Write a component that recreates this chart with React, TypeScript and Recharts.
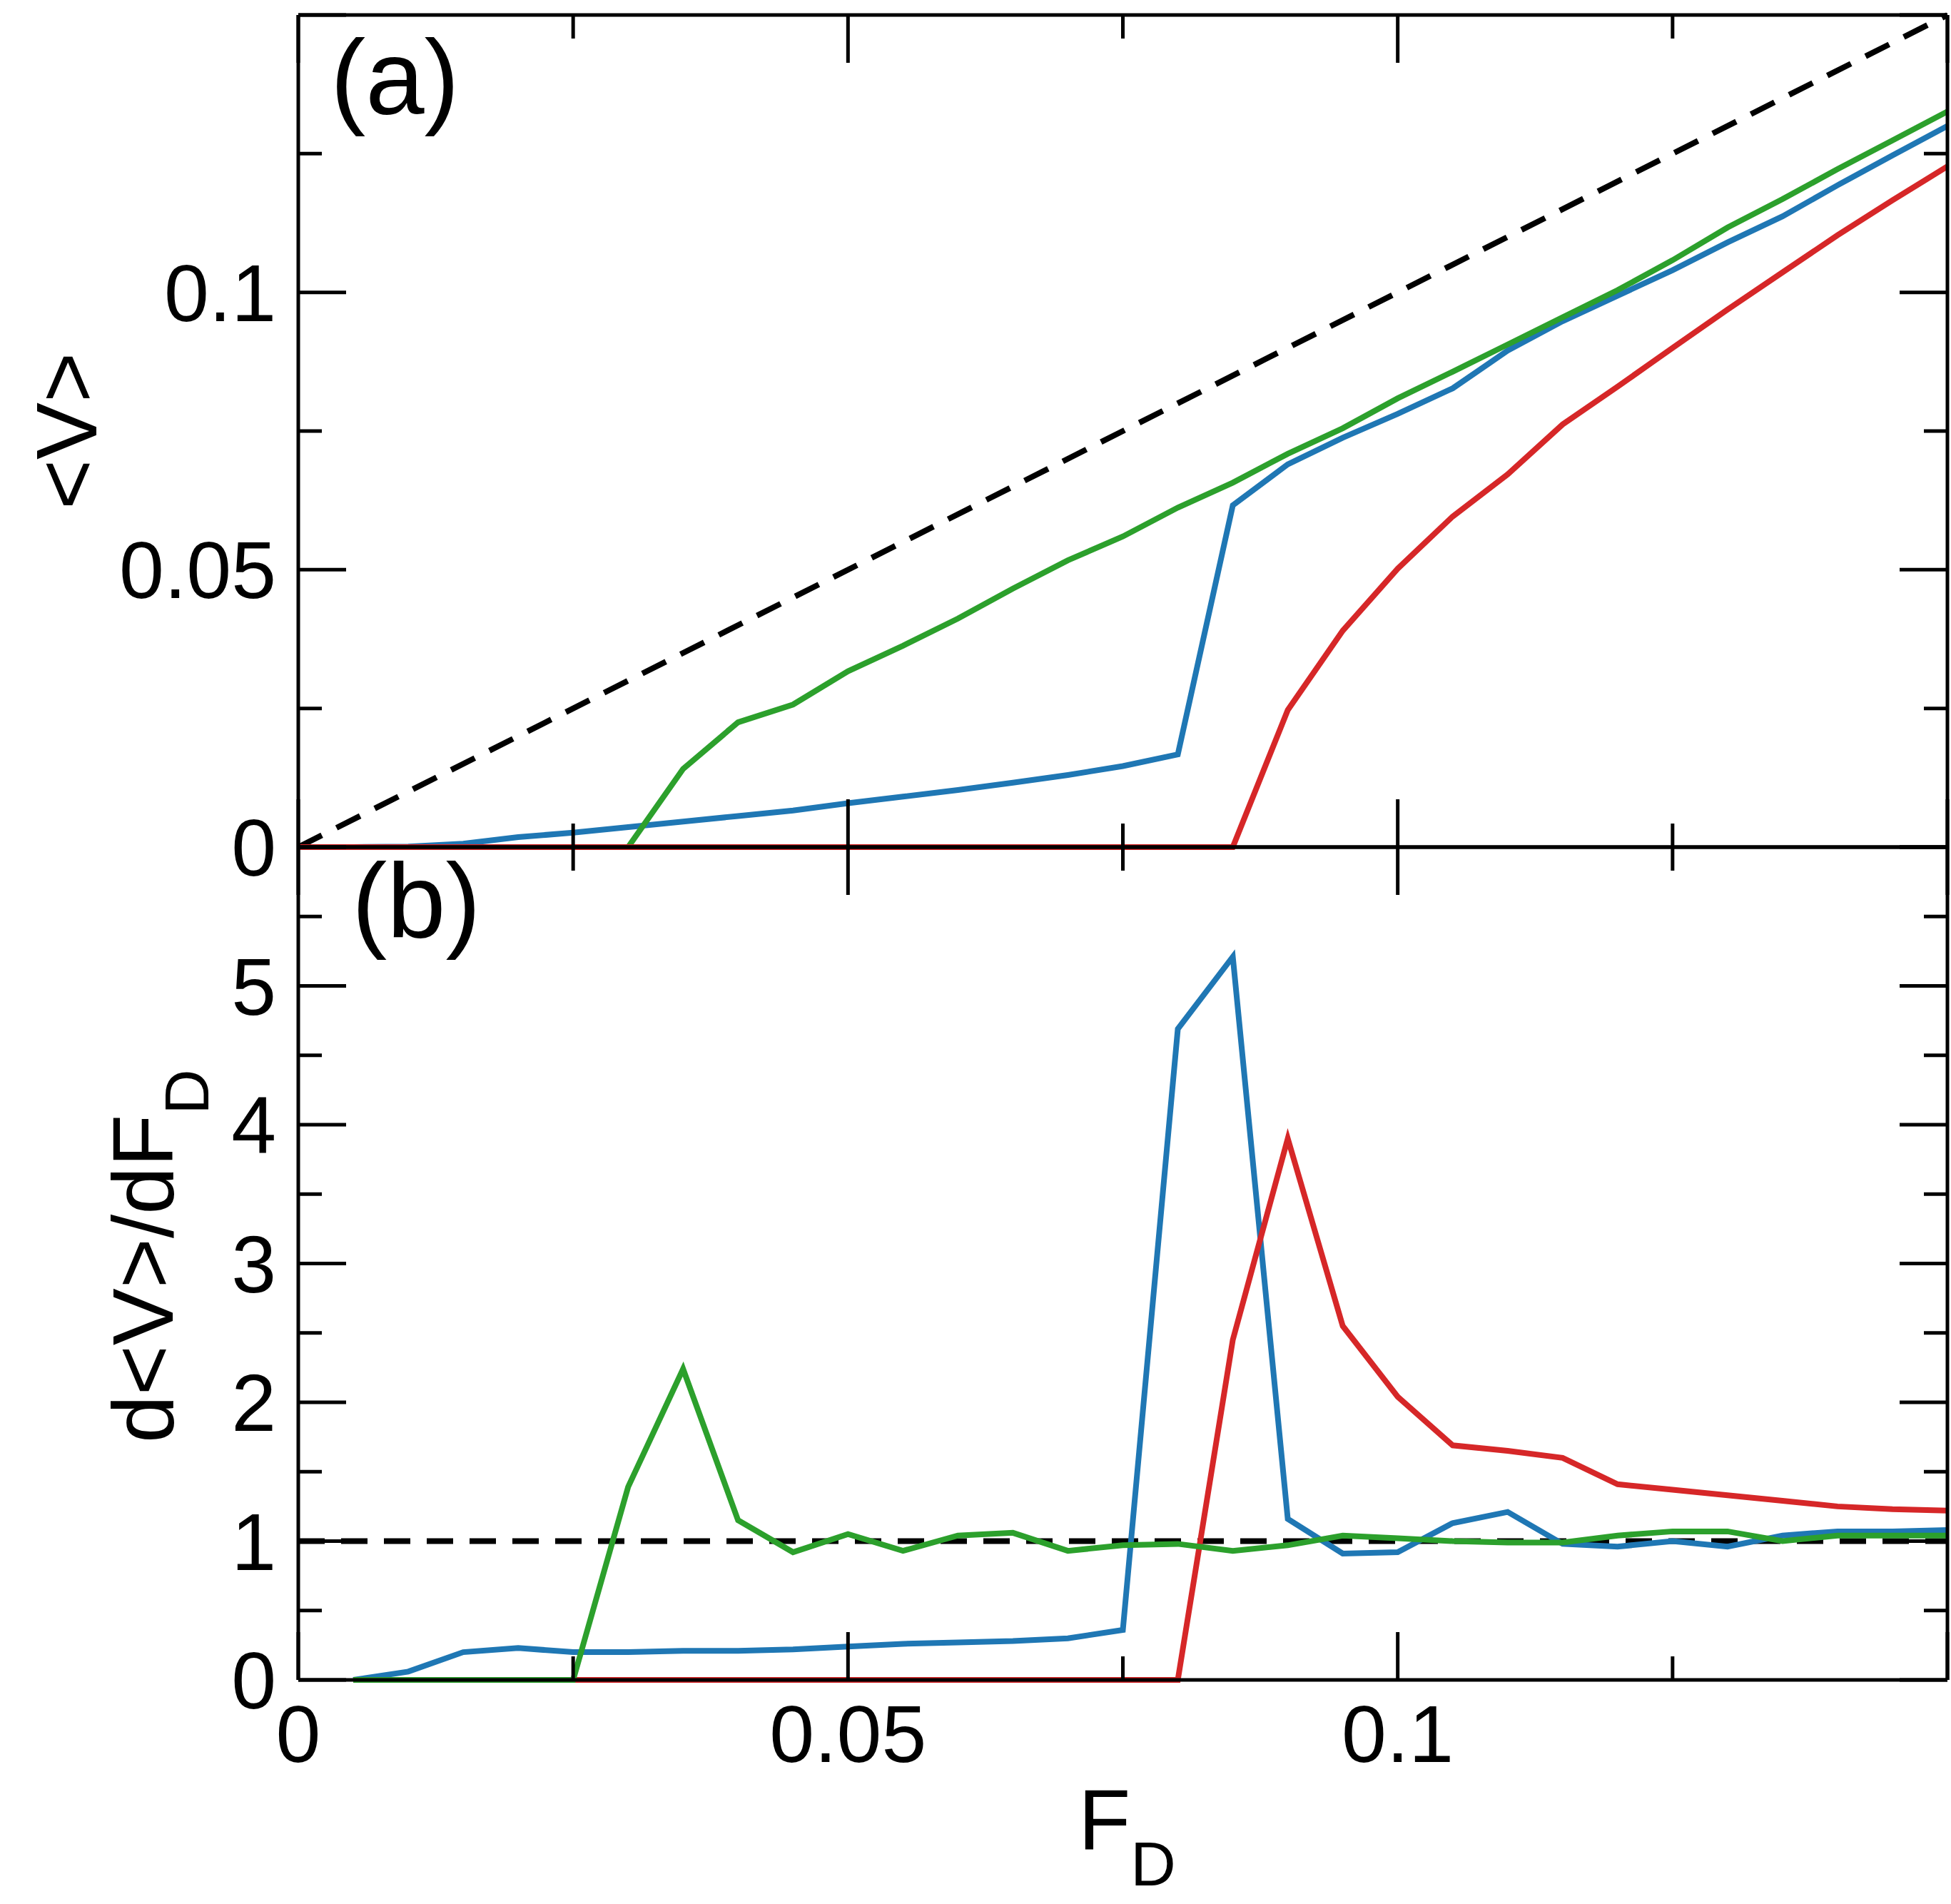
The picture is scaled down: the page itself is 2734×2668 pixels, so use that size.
import { LineChart, Line, XAxis, YAxis } from 'recharts'

// driving force grid
const forces = [
  0, 0.005, 0.01, 0.015, 0.02, 0.025, 0.03, 0.035, 0.04, 0.045, 0.05,
  0.055, 0.06, 0.065, 0.07, 0.075, 0.08, 0.085, 0.09, 0.095, 0.1,
  0.105, 0.11, 0.115, 0.12, 0.125, 0.13, 0.135, 0.14, 0.145, 0.15
]

// panel (a): <V>
const blueV = [
  0, 0, 0.0001, 0.0006, 0.0018, 0.0026, 0.0036, 0.0046, 0.0056, 0.0066, 0.0079,
  0.0091, 0.0103, 0.0116, 0.013, 0.0146, 0.0167, 0.0616, 0.069, 0.0738, 0.0781,
  0.0827, 0.0895, 0.0948, 0.0994, 0.104, 0.109, 0.1137, 0.1193, 0.1247, 0.13
]
const greenV = [
  0, 0, 0, 0, 0, 0, 0, 0.0141, 0.0225, 0.0257, 0.0317,
  0.0363, 0.0412, 0.0466, 0.0517, 0.056, 0.0612, 0.0657, 0.0709, 0.0755, 0.0809,
  0.0857, 0.0906, 0.0955, 0.1004, 0.1058, 0.1117, 0.1168, 0.1222, 0.1274, 0.1326
]
const redV = [
  0, 0, 0, 0, 0, 0, 0, 0, 0, 0, 0,
  0, 0, 0, 0, 0, 0, 0, 0.0247, 0.039, 0.0502,
  0.0596, 0.0672, 0.0762, 0.083, 0.09, 0.0969, 0.1036, 0.1103, 0.1166, 0.1227
]

// panel (b): d<V>/dF_D
const blueD = [
  null, 0, 0.06, 0.2, 0.23, 0.2, 0.2, 0.21, 0.21, 0.22, 0.24,
  0.26, 0.27, 0.28, 0.3, 0.36, 4.69, 5.21, 1.16, 0.91, 0.92,
  1.13, 1.21, 0.98, 0.96, 1.0, 0.96, 1.04, 1.07, 1.07, 1.08
]
const greenD = [
  null, 0, 0, 0, 0, 0, 1.39, 2.24, 1.15, 0.92, 1.05,
  0.93, 1.04, 1.06, 0.93, 0.97, 0.98, 0.93, 0.97, 1.04, 1.02,
  1.0, 0.99, 0.99, 1.04, 1.07, 1.07, 1.0, 1.04, 1.04, 1.04
]
const redD = [
  null, 0, 0, 0, 0, 0, 0, 0, 0, 0, 0,
  0, 0, 0, 0, 0, 0, 2.45, 3.9, 2.55, 2.04,
  1.69, 1.65, 1.6, 1.41, 1.37, 1.33, 1.29, 1.25, 1.23, 1.22
]

// dashed guides
const guideF = [0, 0.15]
const guideV = [0, 0.15]
const guideD = [1, 1]

// ticks
const xTicks = [0, 0.025, 0.05, 0.075, 0.1, 0.125, 0.15]
const xLabels = [0, 0.05, 0.1]
const vTicks = [0, 0.025, 0.05, 0.075, 0.1, 0.125, 0.15]
const vLabels = [0, 0.05, 0.1]
const dTicks = [0, 0.5, 1, 1.5, 2, 2.5, 3, 3.5, 4, 4.5, 5, 5.5, 6]
const dLabels = [0, 1, 2, 3, 4, 5]

const topRows = forces.map((F, i) => ({ F, blue: blueV[i], green: greenV[i], red: redV[i] }))
const bottomRows = forces.map((F, i) => ({ F, blue: blueD[i], green: greenD[i], red: redD[i] }))
const topGuide = guideF.map((F, i) => ({ F, v: guideV[i] }))
const bottomGuide = guideF.map((F, i) => ({ F, v: guideD[i] }))

const W = 2734
const H = 2668
const FONT = "'Liberation Sans', Arial, Helvetica, sans-serif"
const BLUE = '#1f77b4'
const GREEN = '#2ca02c'
const RED = '#d62728'
const MAJOR_TICK = 67
const MINOR_TICK = 33
const frame = { stroke: '#000', strokeWidth: 5 }

type Side = 'left' | 'right' | 'top' | 'bottom'

const isMajor = (v: number, step: number) => {
  const r = v / step
  return Math.abs(r - Math.round(r)) < 1e-6
}

const makeTick = (side: Side, step: number, labelled: number[]) => (props: any) => {
  const { x, y, payload } = props
  const v = payload.value as number
  const len = isMajor(v, step) ? MAJOR_TICK : MINOR_TICK
  const label = labelled.find(l => Math.abs(l - v) < 1e-9)
  let x2 = x
  let y2 = y
  if (side === 'left') x2 = x + len
  if (side === 'right') x2 = x - len
  if (side === 'bottom') y2 = y - len
  if (side === 'top') y2 = y + len
  return (
    <g>
      <line x1={x} y1={y} x2={x2} y2={y2} stroke='#000' strokeWidth={5} />
      {label !== undefined && side === 'left' && (
        <text x={x - 31} y={y + 40} textAnchor='end' fontSize={113} fontFamily={FONT} fill='#000'>
          {String(label)}
        </text>
      )}
      {label !== undefined && side === 'bottom' && (
        <text x={x} y={y + 115} textAnchor='middle' fontSize={113} fontFamily={FONT} fill='#000'>
          {String(label)}
        </text>
      )}
    </g>
  )
}

const lineProps = {
  type: 'linear' as const,
  strokeWidth: 8,
  dot: false,
  activeDot: false,
  isAnimationActive: false
}

const svgStyle = { overflow: 'visible' as const }

function TopPanel () {
  return (
    <LineChart width={W} height={1260} data={topRows} style={svgStyle}
      margin={{ top: 20, right: 4, bottom: 72, left: 0 }}>
      <Line {...lineProps} data={topGuide} xAxisId='t' yAxisId='r' dataKey='v' stroke='#000' strokeDasharray='37 23' />
      <Line {...lineProps} xAxisId='b' yAxisId='l' dataKey='blue' stroke={BLUE} />
      <Line {...lineProps} xAxisId='b' yAxisId='l' dataKey='green' stroke={GREEN} />
      <Line {...lineProps} xAxisId='b' yAxisId='l' dataKey='red' stroke={RED} />
      <XAxis xAxisId='b' orientation='bottom' dataKey='F' type='number' domain={[0, 0.15]} ticks={xTicks} interval={0}
        height={1} tickSize={0} tickMargin={0} tickLine={false} axisLine={frame} tick={makeTick('bottom', 0.05, [])} />
      <XAxis xAxisId='t' orientation='top' dataKey='F' type='number' domain={[0, 0.15]} ticks={xTicks} interval={0}
        height={1} tickSize={0} tickMargin={0} tickLine={false} axisLine={frame} tick={makeTick('top', 0.05, [])} />
      <YAxis yAxisId='l' orientation='left' type='number' domain={[0, 0.15]} ticks={vTicks} interval={0}
        width={418} tickSize={0} tickMargin={0} tickLine={false} axisLine={frame} tick={makeTick('left', 0.05, vLabels)} />
      <YAxis yAxisId='r' orientation='right' type='number' domain={[0, 0.15]} ticks={vTicks} interval={0}
        width={1} tickSize={0} tickMargin={0} tickLine={false} axisLine={frame} tick={makeTick('right', 0.05, [])} />
    </LineChart>
  )
}

function BottomPanel () {
  return (
    <LineChart width={W} height={1498} data={bottomRows} style={svgStyle}
      margin={{ top: 16, right: 4, bottom: 313, left: 0 }}>
      <Line {...lineProps} data={bottomGuide} xAxisId='t' yAxisId='r' dataKey='v' stroke='#000' strokeDasharray='37 23' />
      <Line {...lineProps} xAxisId='b' yAxisId='l' dataKey='blue' stroke={BLUE} />
      <Line {...lineProps} xAxisId='b' yAxisId='l' dataKey='red' stroke={RED} />
      <Line {...lineProps} xAxisId='b' yAxisId='l' dataKey='green' stroke={GREEN} />
      <XAxis xAxisId='b' orientation='bottom' dataKey='F' type='number' domain={[0, 0.15]} ticks={xTicks} interval={0}
        height={1} tickSize={0} tickMargin={0} tickLine={false} axisLine={frame} tick={makeTick('bottom', 0.05, xLabels)} />
      <XAxis xAxisId='t' orientation='top' dataKey='F' type='number' domain={[0, 0.15]} ticks={xTicks} interval={0}
        height={1} tickSize={0} tickMargin={0} tickLine={false} axisLine={frame} tick={makeTick('top', 0.05, [])} />
      <YAxis yAxisId='l' orientation='left' type='number' domain={[0, 6]} ticks={dTicks} interval={0}
        width={418} tickSize={0} tickMargin={0} tickLine={false} axisLine={frame} tick={makeTick('left', 1, dLabels)} />
      <YAxis yAxisId='r' orientation='right' type='number' domain={[0, 6]} ticks={dTicks} interval={0}
        width={1} tickSize={0} tickMargin={0} tickLine={false} axisLine={frame} tick={makeTick('right', 1, [])} />
    </LineChart>
  )
}

export default function App () {
  return (
    <div style={{ position: 'absolute', left: 0, top: 0, width: W, height: H, background: '#fff' }}>
      <div style={{ position: 'absolute', left: 0, top: 0 }}>
        <TopPanel />
      </div>
      {/* drawn second so its top frame line sits over panel (a)'s zero-level lines */}
      <div style={{ position: 'absolute', left: 0, top: 1170 }}>
        <BottomPanel />
      </div>
      <svg width={W} height={H} style={{ position: 'absolute', left: 0, top: 0, pointerEvents: 'none' }}
        fontFamily={FONT} fill='#000'>
        <text x={463} y={160} fontSize={148}>(a)</text>
        <text x={493} y={1314} fontSize={148}>(b)</text>
        <text transform='translate(135, 604) rotate(-90)' textAnchor='middle' fontSize={120}>{'<V>'}</text>
        <text transform='translate(242, 2022) rotate(-90)' fontSize={120}>
          {'d<V>/dF'}
          <tspan fontSize={88} dy={50}>D</tspan>
        </text>
        <text x={1511} y={2592} fontSize={120}>
          F
          <tspan fontSize={88} dy={50}>D</tspan>
        </text>
      </svg>
    </div>
  )
}
